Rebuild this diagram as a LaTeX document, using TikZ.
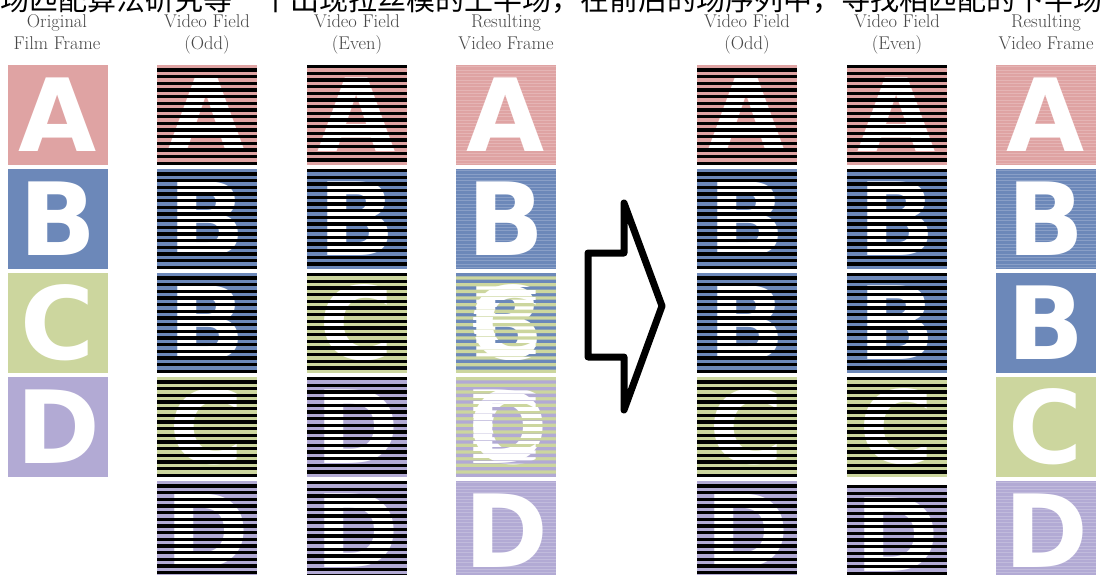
\documentclass[tikz,border=0pt]{standalone}
\usepackage{fontspec}
\newfontfamily\cjk{Noto Sans CJK SC}
\newfontfamily\glyphfont{DejaVu Sans}
\definecolor{frameA}{RGB}{223,163,163}
\definecolor{frameB}{RGB}{108,136,185}
\definecolor{frameC}{RGB}{204,214,158}
\definecolor{frameD}{RGB}{178,170,212}
\tikzset{
  letter/.style={text=white, inner sep=0pt,
    font=\glyphfont\bfseries\fontsize{101}{101}\selectfont},
  colhead/.style={align=center, text=black!72, inner sep=0pt, anchor=base,
    font=\fontsize{18.5}{22}\selectfont},
  bigarrow/.style={draw=black, line width=7pt, line join=round, line cap=round},
}
% a whole film frame: coloured square with a white letter
\newcommand\plainframe[5]{%
  \fill[#4] (#2,#3) rectangle ++(100,100);
  \node[letter] (#1) at ({#2+50},{#3+50}) {#5};}
% one interlaced field: every other scan line blanked out
\newcommand\fieldmask[3]{%
  \foreach \k in {0,...,14}{%
    \fill[black] (#1,{#2+(2*\k+1-#3)*3.3333}) rectangle ++(100,3.3333);}}
% faint scan lines of a rebuilt frame
\newcommand\faintlines[2]{%
  \foreach \k in {0,...,29}{%
    \fill[white,opacity=0.2] (#1,{#2+\k*3.3333+1.2}) rectangle ++(100,0.9);}}
% frame woven from two different fields
\newcommand\woven[7]{%
  \plainframe{#1}{#2}{#3}{#4}{#5}
  \begin{scope}
    \clip foreach \k in {0,...,14}{(#2,{#3+(2*\k+1)*3.3333}) rectangle ++(100,3.3333)};
    \plainframe{#1x}{#2}{#3}{#6}{#7}
  \end{scope}}

\begin{document}
\begin{tikzpicture}[x=1pt,y=-1pt]
\useasboundingbox (0,0) rectangle (1102,575);
\fill[white] (0,0) rectangle (1102,575);
\clip (0,0) rectangle (1102,575);

\node[anchor=base, inner sep=0pt, font=\cjk\fontsize{29}{29}\selectfont] (caption)
  at (551,11) {场匹配算法研究等一个出现拉丝模的上半场，在前后的场序列中，寻找相匹配的下半场};

% column headings (anchored on the baseline of the second line)
\node[colhead] (h1) at (57,50)   {Original\\Film Frame};
\node[colhead] (h2) at (207,50)  {Video Field\\(Odd)};
\node[colhead] (h3) at (357,50)  {Video Field\\(Even)};
\node[colhead] (h4) at (506,50)  {Resulting\\Video Frame};
\node[colhead] (h5) at (747,50)  {Video Field\\(Odd)};
\node[colhead] (h6) at (897,50)  {Video Field\\(Even)};
\node[colhead] (h7) at (1046,50) {Resulting\\Video Frame};

% original film frames
\plainframe{f1}{8}{65}{frameA}{A}
\plainframe{f2}{8}{169}{frameB}{B}
\plainframe{f3}{8}{273}{frameC}{C}
\plainframe{f4}{8}{377}{frameD}{D}

% odd fields (3:2 pulldown)
\plainframe{o1}{157}{65}{frameA}{A}  \fieldmask{157}{65}{0}
\plainframe{o2}{157}{169}{frameB}{B} \fieldmask{157}{169}{0}
\plainframe{o3}{157}{273}{frameB}{B} \fieldmask{157}{273}{0}
\plainframe{o4}{157}{377}{frameC}{C} \fieldmask{157}{377}{0}
\plainframe{o5}{157}{481}{frameD}{D} \fieldmask{157}{481}{0}

% even fields
\plainframe{e1}{307}{65}{frameA}{A}  \fieldmask{307}{65}{1}
\plainframe{e2}{307}{169}{frameB}{B} \fieldmask{307}{169}{1}
\plainframe{e3}{307}{273}{frameC}{C} \fieldmask{307}{273}{1}
\plainframe{e4}{307}{377}{frameD}{D} \fieldmask{307}{377}{1}
\plainframe{e5}{307}{481}{frameD}{D} \fieldmask{307}{481}{1}

% interlaced result with combing
\plainframe{r1}{456}{65}{frameA}{A}  \faintlines{456}{65}
\plainframe{r2}{456}{169}{frameB}{B} \faintlines{456}{169}
\woven{r3}{456}{273}{frameB}{B}{frameC}{C}
\woven{r4}{456}{377}{frameC}{C}{frameD}{D}
\plainframe{r5}{456}{481}{frameD}{D} \faintlines{456}{481}

% transition arrow
\draw[bigarrow] (624,203) -- (662,306) -- (624,410) -- (624,357)
  -- (588,357) -- (588,253) -- (624,253) -- cycle;

% matched odd fields
\plainframe{mo1}{697}{65}{frameA}{A}  \fieldmask{697}{65}{0}
\plainframe{mo2}{697}{169}{frameB}{B} \fieldmask{697}{169}{0}
\plainframe{mo3}{697}{273}{frameB}{B} \fieldmask{697}{273}{0}
\plainframe{mo4}{697}{377}{frameC}{C} \fieldmask{697}{377}{0}
\plainframe{mo5}{697}{481}{frameD}{D} \fieldmask{697}{481}{0}

% matched even fields
\plainframe{me1}{847}{65}{frameA}{A}  \fieldmask{847}{65}{1}
\plainframe{me2}{847}{169}{frameB}{B} \fieldmask{847}{169}{1}
\plainframe{me3}{847}{273}{frameB}{B} \fieldmask{847}{273}{1}
\plainframe{me4}{847}{377}{frameC}{C} \fieldmask{847}{377}{1}
\plainframe{me5}{847}{485}{frameD}{D} \fieldmask{847}{485}{1}

% rebuilt progressive frames
\plainframe{p1}{996}{65}{frameA}{A}  \faintlines{996}{65}
\plainframe{p2}{996}{169}{frameB}{B} \faintlines{996}{169}
\plainframe{p3}{996}{273}{frameB}{B}
\plainframe{p4}{996}{377}{frameC}{C}
\plainframe{p5}{996}{481}{frameD}{D} \faintlines{996}{481}
\end{tikzpicture}
\end{document}
